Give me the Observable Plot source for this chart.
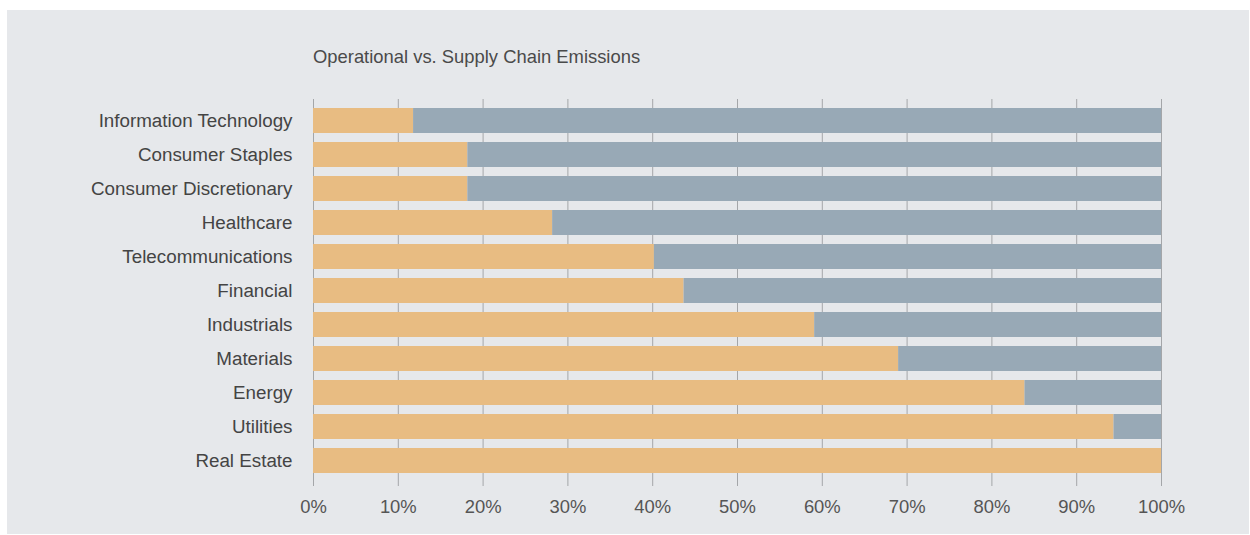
<!DOCTYPE html>
<html>
<head>
<meta charset="utf-8">
<script src="https://cdn.jsdelivr.net/npm/d3@7"></script>
<script src="https://cdn.jsdelivr.net/npm/@observablehq/plot@0.6"></script>
<style>
  html, body { margin: 0; padding: 0; background: #ffffff; }
  #page { position: relative; width: 1250px; height: 535px; background: #ffffff; overflow: hidden; }
  #panel { position: absolute; left: 7px; top: 10px; width: 1242px; height: 524px; background: #e6e8eb; overflow: hidden; }
  #title { height: 60px; box-sizing: border-box; padding-top: 38px; padding-left: 306px;
           font-family: "Liberation Sans", Arial, sans-serif; font-size: 18.4px; line-height: 18.4px; color: #4a4a4a; }
  #chart svg { display: block; }
</style>
</head>
<body>
<div id="page">
  <div id="panel">
    <div id="title">Operational vs. Supply Chain Emissions</div>
    <div id="chart"></div>
  </div>
</div>
<script>
const categories = [
  "Information Technology",
  "Consumer Staples",
  "Consumer Discretionary",
  "Healthcare",
  "Telecommunications",
  "Financial",
  "Industrials",
  "Materials",
  "Energy",
  "Utilities",
  "Real Estate"
];
const operational = [11.8, 18.2, 18.2, 28.2, 40.2, 43.7, 59.1, 69.0, 83.9, 94.4, 100];
const supplyChain = [88.2, 81.8, 81.8, 71.8, 59.8, 56.3, 40.9, 31.0, 16.1, 5.6, 0];
const seriesNames = ["Operational", "Supply Chain"];
const seriesColors = ["#e8bc82", "#98a9b6"];
const xTicks = [0, 10, 20, 30, 40, 50, 60, 70, 80, 90, 100];

const rows = [];
categories.forEach((c, i) => {
  rows.push({sector: c, series: seriesNames[0], value: operational[i]});
  rows.push({sector: c, series: seriesNames[1], value: supplyChain[i]});
});

const chart = Plot.plot({
  width: 1242,
  height: 465,
  marginLeft: 306,
  marginRight: 88,
  marginTop: 29,
  marginBottom: 53,
  style: {background: "transparent", fontFamily: "Liberation Sans, Arial, sans-serif", fontSize: "18.4px"},
  x: {domain: [0, 100], ticks: xTicks, tickFormat: d => d + "%", label: null},
  y: {domain: categories, padding: 0.265, round: false, label: null},
  color: {domain: seriesNames, range: seriesColors},
  marks: [
    Plot.ruleX(xTicks, {stroke: "#a4a6a9", strokeWidth: 1}),
    Plot.barX(rows, Plot.stackX({y: "sector", x: "value", fill: "series", order: null})),
    Plot.axisX({ticks: xTicks, tickFormat: d => d + "%", tickSize: 4, tickPadding: 13, stroke: "#a4a6a9", color: "#555", fill: "#555", label: null}),
    Plot.axisY({tickSize: 0, tickPadding: 21, fill: "#444", fontSize: 18.8, label: null})
  ]
});
document.getElementById("chart").appendChild(chart);
</script>
</body>
</html>
